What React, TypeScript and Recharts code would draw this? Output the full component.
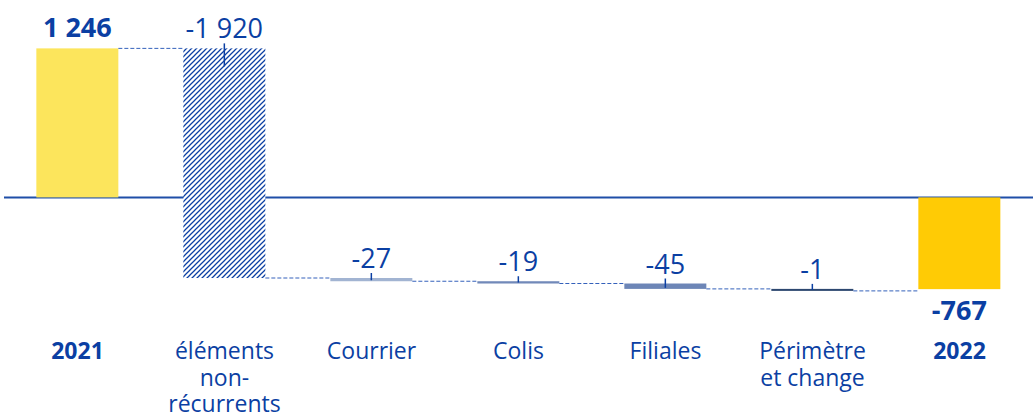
import { BarChart, Bar, XAxis, YAxis, CartesianGrid } from "recharts";

// waterfall: 2021 -> 2022
const categories = [
  "2021",
  "éléments\nnon-\nrécurrents",
  "Courrier",
  "Colis",
  "Filiales",
  "Périmètre\net change",
  "2022",
];
const deltas = [1246, -1920, -27, -19, -45, -1, -767];
const totals = [true, false, false, false, false, false, true];
const valueLabels = ["1 246", "-1 920", "-27", "-19", "-45", "-1", "-767"];
const yDomain = [-1000, 1500];

const BAR_COLORS = ["#fce55c", "url(#hatch)", "#a2b4d2", "#7189b9", "#6d86b7", "#2d4870", "#ffcb05"];
const BLUE = "#0b3fa3";
const FONT = "'Open Sans', sans-serif";

const CHART_W = 1033;
const CHART_H = 418;
const MARGIN = { top: 18, right: 0, bottom: 0, left: 4 };
const BAND = (CHART_W - MARGIN.left - MARGIN.right) / categories.length;

let running = 0;
const data = categories.map((name, i) => {
  const start = totals[i] ? 0 : running;
  const end = totals[i] ? deltas[i] : running + deltas[i];
  running = end;
  return { name, idx: i, range: [start, end] };
});

function WaterfallBar(props: any) {
  const { x, y, width, height, payload } = props;
  const i = payload.idx;
  const [start, end] = payload.range;
  let top = Math.min(y, y + height);
  let bottom = Math.max(y, y + height);
  if (bottom - top < 2) {
    if (end < start) bottom = top + 2;
    else top = bottom - 2;
  }
  const endPx = end < start ? bottom : top;
  const h = bottom - top;
  const cx = x + width / 2;
  const isLast = i === categories.length - 1;

  return (
    <g>
      {i === 1 && (
        <defs>
          <pattern id="hatch" patternUnits="userSpaceOnUse" width={5} height={5}>
            <rect width={5} height={5} fill="#fff" />
            <path d="M0,5 L5,0 M-1,1 L1,-1 M4,6 L6,4" stroke={BLUE} strokeWidth={1.25} />
          </pattern>
        </defs>
      )}
      <rect x={x} y={top} width={width} height={h} fill={BAR_COLORS[i]} />
      {!isLast && (
        <line
          x1={x + width}
          x2={x + BAND}
          y1={endPx}
          y2={endPx}
          stroke="#3461bb"
          strokeWidth={1}
          strokeDasharray="4 2"
        />
      )}
      {totals[i] ? (
        <text
          x={cx}
          y={end >= 0 ? top - 11 : bottom + 31}
          textAnchor="middle"
          fontFamily={FONT}
          fontWeight={700}
          fontSize={27}
          fill={BLUE}
        >
          {valueLabels[i]}
        </text>
      ) : (
        <g>
          <text
            x={cx}
            y={top - 10}
            textAnchor="middle"
            fontFamily={FONT}
            fontSize={27}
            fill={BLUE}
          >
            {valueLabels[i]}
          </text>
          <line
            x1={cx}
            x2={cx}
            y1={top - 5}
            y2={top + Math.min(Math.max(h - 1, 1), 18)}
            stroke={BLUE}
            strokeWidth={1.5}
          />
        </g>
      )}
    </g>
  );
}

function CategoryTick(props: any) {
  const { x, y, payload } = props;
  const i = categories.indexOf(payload.value);
  const lines = String(payload.value).split("\n");
  return (
    <g>
      {lines.map((line, k) => (
        <text
          key={k}
          x={x}
          y={y + 34 + k * 26.5}
          textAnchor="middle"
          fontFamily={FONT}
          fontSize={23}
          fontWeight={totals[i] ? 700 : 400}
          fill={BLUE}
        >
          {line}
        </text>
      ))}
    </g>
  );
}

export default function App() {
  return (
    <div style={{ position: "absolute", left: 0, top: 0, background: "#fff" }}>
      <BarChart
        width={CHART_W}
        height={CHART_H}
        data={data}
        margin={MARGIN}
        barCategoryGap="22%"
      >
        <CartesianGrid
          vertical={false}
          horizontalValues={[0]}
          stroke="#1f4fa8"
          strokeWidth={2}
        />
        <XAxis
          dataKey="name"
          tickLine={false}
          axisLine={false}
          interval={0}
          height={101}
          tick={<CategoryTick />}
        />
        <YAxis hide domain={yDomain} />
        <Bar dataKey="range" isAnimationActive={false} shape={WaterfallBar} />
      </BarChart>
    </div>
  );
}
